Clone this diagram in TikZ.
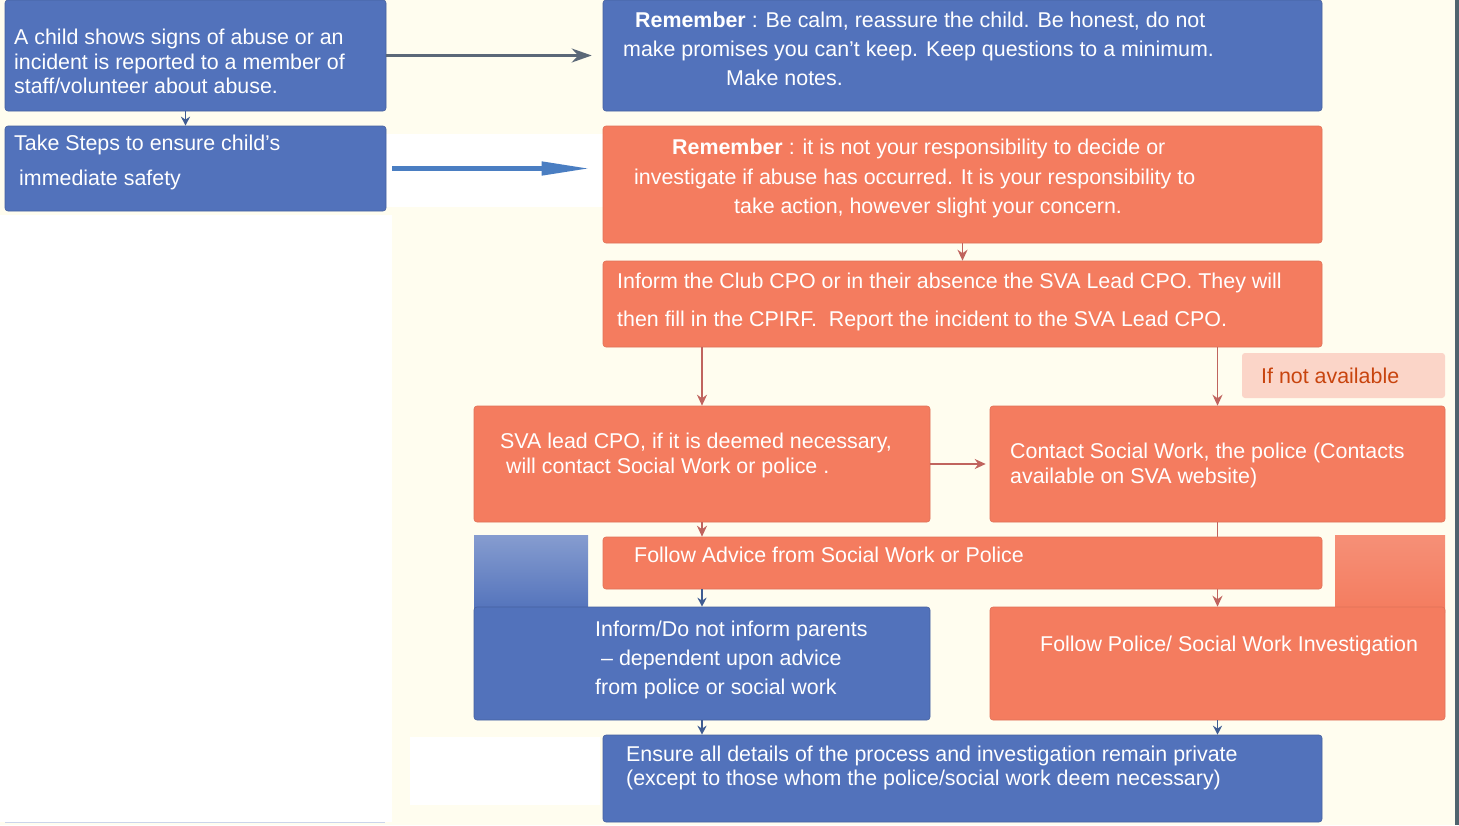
\documentclass[tikz,border=0pt]{standalone}
\usepackage{fontspec}
\setmainfont{Liberation Sans}
\usetikzlibrary{arrows.meta,positioning}
\definecolor{BoxBlue}{HTML}{5272BB}
\definecolor{BoxOrange}{HTML}{F47C5F}
\definecolor{PaperCream}{HTML}{FFFDEF}
\definecolor{NotePink}{HTML}{FBD5C8}
\definecolor{NoteText}{HTML}{C8440E}
\definecolor{LineGray}{HTML}{5B6878}
\definecolor{ArrowBlue}{HTML}{4A7EC2}
\definecolor{LineRed}{HTML}{C0645E}
\definecolor{LineNavy}{HTML}{3F5C92}
\definecolor{EdgeSlate}{HTML}{50646E}

\begin{document}
\begin{tikzpicture}[
    x=1pt,y=-1pt,
    box/.style={rounded corners=3pt,inner sep=0pt,line width=0.6pt},
    bluebox/.style={box,fill=BoxBlue,draw=BoxBlue!85!black},
    redbox/.style={box,fill=BoxOrange,draw=BoxOrange!92!black},
    txt/.style={text=white,align=left,inner sep=0pt,font=\fontsize{21.4}{#1}\selectfont},
    txt/.default=25,
    redarr/.style={-{Stealth[length=11pt,width=10pt]},line width=1.6pt,draw=LineRed},
    navyarr/.style={-{Stealth[length=9pt,width=9pt]},line width=1.6pt,draw=LineNavy}
  ]
    \useasboundingbox (0,0) rectangle (1459,825);
    \fill[PaperCream] (0,0) rectangle (1459,825);
    \fill[white] (0,215) rectangle (392,822);
    \fill[white] (386,134) rectangle (603,207);
    \fill[white] (410,737) rectangle (600,805);
    \fill[EdgeSlate] (1455,0) rectangle (1459,825);
    \draw[BoxBlue!30!white] (5,822) -- (385,822);
    \shade[top color=BoxBlue!70!white,bottom color=BoxBlue] (474,535) rectangle (588,612);
    \shade[top color=BoxOrange!85!white,bottom color=BoxOrange] (1335,535) rectangle (1445,612);

    \node[bluebox,minimum width=381,minimum height=111] (child) at (195.5,55.5) {};
    \node[bluebox,minimum width=381,minimum height=85] (safety) at (195.5,168.5) {};
    \node[bluebox,minimum width=719,minimum height=111] (calm) at (962.5,55.5) {};
    \node[redbox,minimum width=719,minimum height=117] (duty) at (962.5,184.5) {};
    \node[redbox,minimum width=719,minimum height=86] (club) at (962.5,304) {};
    \node[box,fill=NotePink,minimum width=203,minimum height=45] (notavail) at (1343.5,375.5) {};
    \node[redbox,minimum width=456,minimum height=116] (svalead) at (702,464) {};
    \node[redbox,minimum width=455,minimum height=116] (contact) at (1217.5,464) {};
    \node[bluebox,minimum width=456,minimum height=113] (parents) at (702,663.5) {};
    \node[redbox,minimum width=455,minimum height=113] (invest) at (1217.5,663.5) {};
    \draw[redarr] (contact.south) -- (invest.north);
    \node[redbox,minimum width=719,minimum height=52] (advice) at (962.5,563) {};
    \node[bluebox,minimum width=719,minimum height=87] (private) at (962.5,778.5) {};

    \node[txt=24.5,anchor=west] (child-t) at (14,61.5) {A child shows signs of abuse or an\\incident is reported to a member of\\staff/volunteer about abuse.};
    \node[txt=35,anchor=west] (safety-t) at (14,162.5) {Take Steps to ensure child’s\\\hspace*{5pt}immediate safety};
    \node[txt=29,anchor=west] (calm-t) at (623,49) {\hspace*{12pt}\textbf{Remember} : Be calm, reassure the child. Be honest, do not\\make promises you can't keep. Keep questions to a minimum.\\\hspace*{103pt}Make notes.};
    \node[txt=29.5,anchor=west] (duty-t) at (634,178.5) {\hspace*{38pt}\textbf{Remember} : it is not your responsibility to decide or\\investigate if abuse has occurred. It is your responsibility to\\\hspace*{100pt}take action, however slight your concern.};
    \node[txt=38,anchor=west] (club-t) at (617,301.5) {Inform the Club CPO or in their absence the SVA Lead CPO. They will\\then fill in the CPIRF.\ \ Report the incident to the SVA Lead CPO.};
    \node[txt,text=NoteText,anchor=base west] (notavail-t) at (1261,383.5) {If not available};
    \node[txt,anchor=west] (svalead-t) at (500,455.5) {SVA lead CPO, if it is deemed necessary,\\\hspace*{6pt}will contact Social Work or police .};
    \node[txt,anchor=west] (contact-t) at (1010,465.5) {Contact Social Work, the police (Contacts\\available on SVA website)};
    \node[txt,anchor=base west] (advice-t) at (634,562.5) {Follow Advice from Social Work or Police};
    \node[txt=29,anchor=west] (parents-t) at (595,660) {Inform/Do not inform parents\\\hspace*{6pt}– dependent upon advice\\from police or social work};
    \node[txt,anchor=base west] (invest-t) at (1040,651.5) {Follow Police/ Social Work Investigation};
    \node[txt=24,anchor=west] (private-t) at (626,768) {Ensure all details of the process and investigation remain private\\(except to those whom the police/social work deem necessary)};

    \draw[-{Stealth[length=20pt,width=14pt]},line width=2.6pt,draw=LineGray,shorten >=11pt] (child.east) -- (calm.west);
    \draw[-{Triangle[length=48pt,width=13pt]},line width=4.5pt,draw=ArrowBlue,shorten <=6pt,shorten >=13pt] (safety.east) -- (safety.east -| duty.west);
    \draw[navyarr] ([xshift=-10pt]child.south) -- ([xshift=-10pt]safety.north);
    \draw[redarr] (duty) -- (club);
    \draw[redarr] (club.south -| svalead.north) -- (svalead.north);
    \draw[redarr] (club.south -| contact.north) -- (contact.north);
    \draw[redarr,shorten >=4pt] (svalead.east) -- (contact.west);
    \draw[redarr] (svalead.south) -- (svalead.south |- advice.north);
    \draw[navyarr] (advice.south -| parents.north) -- (parents.north);
    \draw[navyarr] (parents.south) -- (parents.south |- private.north);
    \draw[navyarr] (invest.south) -- (invest.south |- private.north);
  \end{tikzpicture}
\end{document}
